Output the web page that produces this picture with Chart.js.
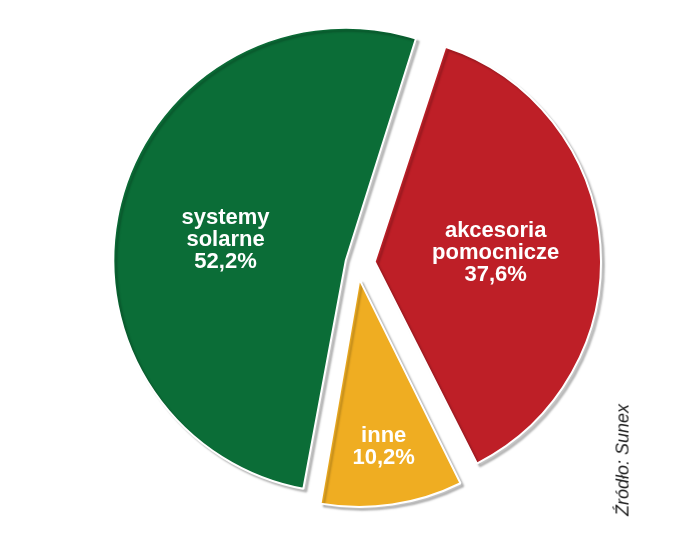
<!DOCTYPE html>
<html>
<head>
<meta charset="utf-8">
<script src="https://cdn.jsdelivr.net/npm/chart.js@4"></script>
<style>
    html, body { margin: 0; padding: 0; background: #fff; }
    #wrap { position: relative; width: 700px; height: 552px; }
    #source {
        position: absolute; left: 623px; top: 460px;
        transform: translate(-50%, -50%) rotate(-90deg);
        font: italic 18px "Liberation Sans", Arial, sans-serif;
        color: #222; white-space: nowrap;
    }
</style>
</head>
<body>
<div id="wrap">
    <canvas id="shareChart"></canvas>
    <div id="source">Źródło: Sunex</div>
</div>
<script>
// order: clockwise from the top-right gap
const categories = [['akcesoria', 'pomocnicze'], ['inne'], ['systemy', 'solarne']];
const shares = [37.6, 10.2, 52.2];
const shareLabels = ['37,6%', '10,2%', '52,2%'];
const sliceColors = ['#be1f27', '#efad22', '#0b6d37'];

// Chart.js v4 moves a slice by offset/4 * (2 - sin(min(PI, angle))),
// so these give roughly the same 23px pull-out for every slice
const sliceOffsets = [71, 66, 46];

// where the text sits inside each slice (fraction of radius, angle tweak in deg)
const labelRadius = [0.525, 0.735, 0.5];
const labelTurn = [0, 0, -5];

function pullOut(arc) {
    const off = (arc.options.offset || 0) / 4;
    const circ = arc.endAngle - arc.startAngle;
    return off * (2 - Math.sin(Math.min(Math.PI, circ)));
}

const sliceShadow = {
    id: 'sliceShadow',
    beforeDatasetsDraw(chart) {
        const c = chart.ctx;
        c.save();
        c.shadowColor = 'rgba(0, 0, 0, 0.22)';
        c.shadowBlur = 2;
        c.shadowOffsetX = 3;
        c.shadowOffsetY = 3;
    },
    afterDatasetsDraw(chart) {
        chart.ctx.restore();
    }
};

const sliceLabels = {
    id: 'sliceLabels',
    afterDatasetsDraw(chart) {
        const c = chart.ctx;
        const meta = chart.getDatasetMeta(0);
        c.save();
        c.fillStyle = '#fff';
        c.textAlign = 'center';
        c.textBaseline = 'middle';
        c.font = 'bold 22px "Liberation Sans", Arial, sans-serif';
        meta.data.forEach(function (arc, i) {
            const mid = (arc.startAngle + arc.endAngle) / 2;
            const p = pullOut(arc);
            const ax = arc.x + Math.cos(mid) * p;
            const ay = arc.y + Math.sin(mid) * p;
            const a = mid + labelTurn[i] * Math.PI / 180;
            const r = arc.outerRadius * labelRadius[i];
            const x = ax + Math.cos(a) * r;
            const y = ay + Math.sin(a) * r;
            const lines = categories[i].concat([shareLabels[i]]);
            const lh = 22;
            lines.forEach(function (t, k) {
                c.fillText(t, x, y + (k - (lines.length - 1) / 2) * lh);
            });
        });
        c.restore();
    }
};

new Chart(document.getElementById('shareChart'), {
    type: 'pie',
    data: {
        labels: categories.map(function (l) { return l.join(' '); }),
        datasets: [{
            data: shares,
            backgroundColor: sliceColors,
            borderColor: '#fff',
            borderWidth: 2,
            offset: sliceOffsets
        }]
    },
    options: {
        responsive: true,
        maintainAspectRatio: false,
        animation: false,
        rotation: 18,
        radius: 221,
        layout: { padding: { left: 14, right: 0, top: 0, bottom: 26 } },
        plugins: {
            legend: { display: false },
            tooltip: { enabled: false }
        }
    },
    plugins: [sliceShadow, sliceLabels]
});
</script>
</body>
</html>
